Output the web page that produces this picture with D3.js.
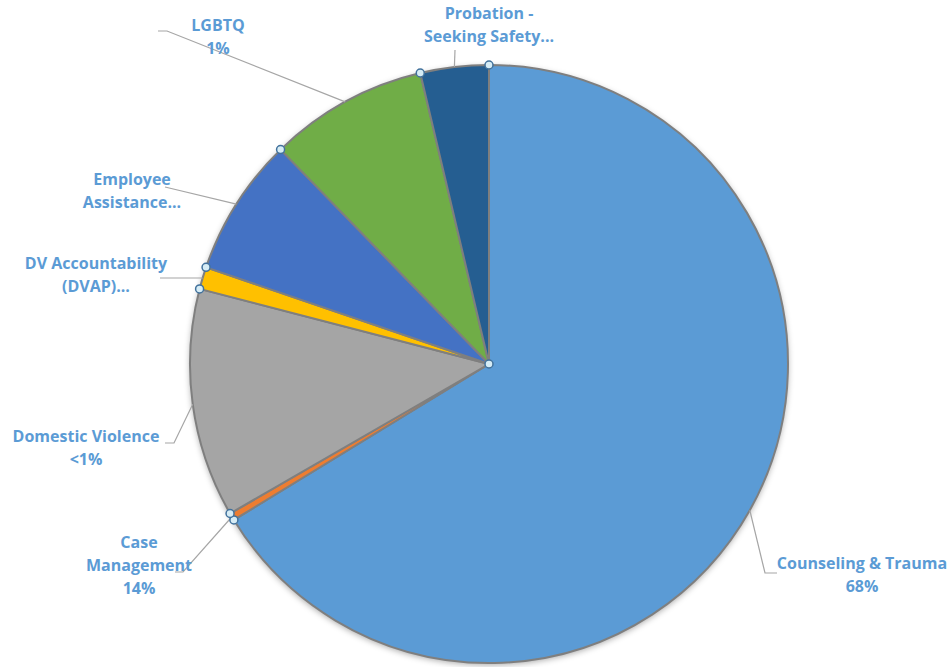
<!DOCTYPE html>
<html>
<head>
<meta charset="utf-8">
<script src="https://cdn.jsdelivr.net/npm/d3@7"></script>
<style>
  body { margin: 0; background: #fff; }
  svg { display: block; }
</style>
</head>
<body>
<svg width="951" height="667"></svg>
<script>
// slice data, clockwise from 12 o'clock
var categories = ["Counseling & Trauma", "Case Management", "Domestic Violence", "DV Accountability (DVAP)", "Employee Assistance", "LGBTQ", "Probation - Seeking Safety"];
var shares = [66.4, 0.4, 12.4, 1.2, 7.5, 8.6, 3.7];
var colors = ["#5b9bd5", "#ed7d31", "#a5a5a5", "#ffc000", "#4472c4", "#70ad47", "#255e91"];
// label text as shown in the chart (lines)
var labelText = [
  ["Counseling & Trauma", "68%"],
  ["Case", "Management", "14%"],
  ["Domestic Violence", "<1%"],
  ["DV Accountability", "(DVAP)..."],
  ["Employee", "Assistance..."],
  ["LGBTQ", "1%"],
  ["Probation -", "Seeking Safety..."]
];

// layout: label centre x / first baseline, and leader elbow points
var labelPos = [[862, 569], [139, 548], [86, 442], [96, 269], [132, 185], [218, 31], [489, 19]];
var leaderEnd = [[[765, 573], [777, 573]], [[183, 572], [175, 572]], [[174, 443], [165, 443]], [[200, 278], [160, 278]], [[165, 187]], [[167, 31], [158, 31]], [[455, 50]]];

var svg = d3.select("svg");
var cx = 489, cy = 364, r = 299;

var defs = svg.append("defs");
var f = defs.append("filter").attr("id", "shadow").attr("x", "-10%").attr("y", "-10%").attr("width", "120%").attr("height", "120%");
f.append("feDropShadow").attr("dx", 0).attr("dy", 2).attr("stdDeviation", 3).attr("flood-color", "#000").attr("flood-opacity", 0.35);

var pie = d3.pie().sort(null).value(function(d){ return d; });
var arcs = pie(shares);
var arc = d3.arc().innerRadius(0).outerRadius(r);

var g = svg.append("g").attr("transform", "translate(" + cx + "," + cy + ")");

g.append("circle").attr("r", r).attr("fill", "#888").attr("filter", "url(#shadow)");

g.selectAll("path.slice").data(arcs).enter().append("path")
  .attr("class", "slice")
  .attr("d", arc)
  .attr("fill", function(d, i){ return colors[i]; })
  .attr("stroke", "#7f7f7f")
  .attr("stroke-width", 2)
  .attr("stroke-linejoin", "round");

// leader lines from slice mid-point on the rim
function rimPoint(a){
  return [cx + r * Math.sin(a), cy - r * Math.cos(a)];
}
arcs.forEach(function(d, i){
  var mid = (d.startAngle + d.endAngle) / 2;
  var pts = [rimPoint(mid)].concat(leaderEnd[i]);
  svg.append("path")
    .attr("d", d3.line()(pts))
    .attr("fill", "none")
    .attr("stroke", "#a6a6a6")
    .attr("stroke-width", 1.2);
});

// selection handles on the slice boundaries and the centre
var handles = arcs.map(function(d){ return rimPoint(d.startAngle); });
handles.push([cx, cy]);
svg.selectAll("circle.handle").data(handles).enter().append("circle")
  .attr("class", "handle")
  .attr("cx", function(d){ return d[0]; })
  .attr("cy", function(d){ return d[1]; })
  .attr("r", 4)
  .attr("fill", "#d6ecf5")
  .attr("stroke", "#41719c")
  .attr("stroke-width", 1.5);

// labels
labelText.forEach(function(lines, i){
  var t = svg.append("text")
    .attr("x", labelPos[i][0])
    .attr("y", labelPos[i][1])
    .attr("text-anchor", "middle")
    .attr("font-family", "'Open Sans', sans-serif")
    .attr("font-weight", "bold")
    .attr("font-size", 16)
    .attr("fill", "#5b9bd5");
  lines.forEach(function(s, j){
    t.append("tspan").attr("x", labelPos[i][0]).attr("dy", j === 0 ? 0 : 23).text(s);
  });
});
</script>
</body>
</html>
